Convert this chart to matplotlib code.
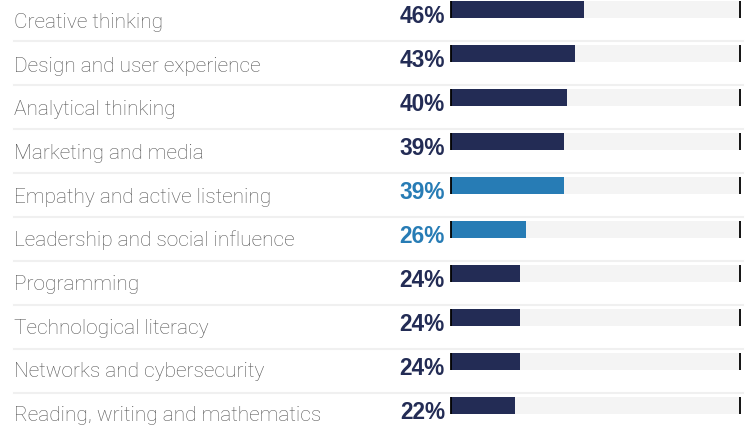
import matplotlib
matplotlib.use("Agg")
import matplotlib.pyplot as plt

categories = ["Creative thinking", "Design and user experience", "Analytical thinking",
              "Marketing and media", "Empathy and active listening",
              "Leadership and social influence", "Programming", "Technological literacy",
              "Networks and cybersecurity", "Reading, writing and mathematics"]
values = [46, 43, 40, 39, 39, 26, 24, 24, 24, 22]
highlight = [False, False, False, False, True, True, False, False, False, False]

NAVY = "#232c55"
BLUE = "#277cb5"
TRACK = "#f4f4f4"
SEP = "#f0f0f0"
LABEL = "#555555"

W, H = 750, 427
fig = plt.figure(figsize=(W / 100, H / 100), dpi=100)
ax = fig.add_axes([0, 0, 1, 1])
ax.set_axis_off()

x0px, x100px = 451, 740
ppu = (x100px - x0px) / 100.0
ax.set_xlim(-x0px / ppu, (W - x0px) / ppu)
row_h = 44.0
c0 = 10.5
ax.set_ylim((H - c0) / row_h, -c0 / row_h)

def px2x(p):
    return (p - x0px) / ppu

n = len(categories)
bar_h = 17 / row_h
for i, (cat, v, hl) in enumerate(zip(categories, values, highlight)):
    col = BLUE if hl else NAVY
    ax.barh(i, 100, height=bar_h, color=TRACK, left=0, zorder=1)
    ax.barh(i, v, height=bar_h, color=col, left=0, zorder=2)
    for xe in (0, 100):
        ax.plot([xe, xe], [i - bar_h / 2, i + bar_h / 2], color="black", lw=1.3, zorder=3,
                solid_capstyle="butt")
    ax.text(px2x(14), i + (17.5 - 0.33 * i) / row_h, cat, ha="left", va="baseline",
            fontsize=15, color=LABEL, family=["Roboto", "DejaVu Sans"], fontweight="light")
    ax.text(px2x(445), i + 12.3 / row_h, f"{v}%", ha="right", va="baseline",
            fontsize=16.3, color=col, fontweight="bold",
            family=["Liberation Sans", "DejaVu Sans"])
    if i < n - 1:
        ax.plot([px2x(14), px2x(743)], [i + 31 / row_h] * 2, color=SEP, lw=1.5, zorder=0)

fig.savefig("out.png", dpi=100)
